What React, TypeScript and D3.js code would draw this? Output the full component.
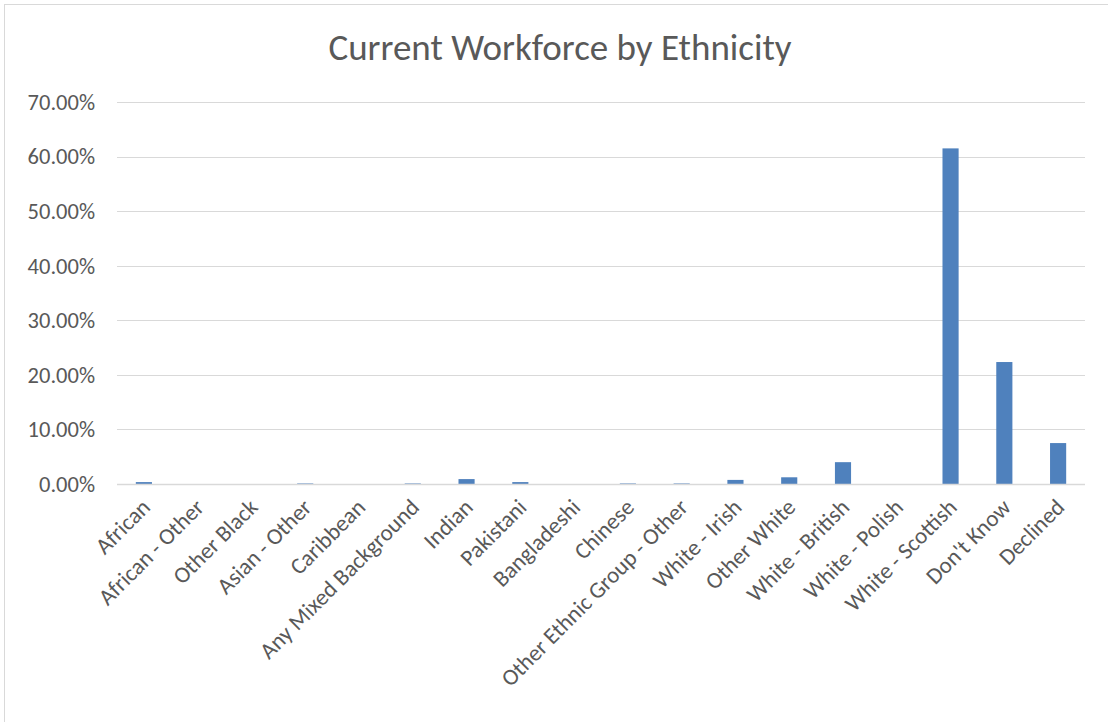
import React, { useEffect, useRef } from "react";
import * as d3 from "d3";

const categories = [
  "African", "African - Other", "Other Black", "Asian - Other", "Caribbean",
  "Any Mixed Background", "Indian", "Pakistani", "Bangladeshi", "Chinese",
  "Other Ethnic Group - Other", "White - Irish", "Other White", "White - British",
  "White - Polish", "White - Scottish", "Don't Know", "Declined",
];
const values = [
  0.0035, 0.0, 0.0, 0.001, 0.0,
  0.001, 0.009, 0.0035, 0.0, 0.001,
  0.001, 0.0075, 0.0123, 0.04,
  0.0, 0.615, 0.2235, 0.075,
];
const yTicks = [0, 0.1, 0.2, 0.3, 0.4, 0.5, 0.6, 0.7];
const title = "Current Workforce by Ethnicity";

export default function App() {
  const ref = useRef<SVGSVGElement>(null);
  useEffect(() => {
    const W = 1108, H = 722;
    const svg = d3.select(ref.current);
    svg.selectAll("*").remove();
    const left = 117, right = 1085, top = 102, bottom = 484;
    const font = "Carlito, Calibri, 'Open Sans', sans-serif";

    svg.append("rect").attr("width", W).attr("height", H).attr("fill", "#fff");
    svg.append("rect").attr("x", 4.5).attr("y", 4.5).attr("width", W + 10).attr("height", H + 10)
      .attr("fill", "none").attr("stroke", "#d9d9d9").attr("stroke-width", 1);

    const x = d3.scaleBand().domain(categories).range([left, right]).paddingInner(0.7).paddingOuter(0.35);
    const y = d3.scaleLinear().domain([0, 0.7]).range([bottom, top]);

    svg.append("text").attr("x", 560).attr("y", 60).attr("text-anchor", "middle")
      .attr("font-family", font).attr("font-size", 37).attr("fill", "#595959").text(title);

    const g = svg.append("g");
    g.selectAll("line.grid").data(yTicks.slice(1)).join("line")
      .attr("x1", left).attr("x2", right)
      .attr("y1", (d) => Math.round(y(d)) + 0.5).attr("y2", (d) => Math.round(y(d)) + 0.5)
      .attr("stroke", "#d9d9d9").attr("stroke-width", 1);

    g.selectAll("text.yt").data(yTicks).join("text")
      .attr("x", 95).attr("y", (d) => y(d)).attr("dy", "0.35em").attr("text-anchor", "end")
      .attr("font-family", font).attr("font-size", 22.5).attr("fill", "#595959")
      .text((d) => d3.format(".2%")(d));

    g.selectAll("rect.bar").data(values).join("rect")
      .attr("x", (_, i) => x(categories[i])!).attr("width", x.bandwidth())
      .attr("y", (d) => y(d)).attr("height", (d) => y(0) - y(d))
      .attr("fill", "#4f81bd");

    g.append("line").attr("x1", left).attr("x2", right).attr("y1", bottom + 0.5).attr("y2", bottom + 0.5)
      .attr("stroke", "#d9d9d9").attr("stroke-width", 1.5);

    g.selectAll("text.xl").data(categories).join("text")
      .attr("transform", (d) => `translate(${x(d)! + x.bandwidth() / 2 + 2},${bottom + 19}) rotate(-45)`)
      .attr("text-anchor", "end").attr("dy", "0.35em")
      .attr("font-family", font).attr("font-size", 23).attr("fill", "#595959")
      .text((d) => d);
  }, []);
  return (
    <svg ref={ref} width={1108} height={722} style={{ position: "absolute", left: 0, top: 0 }} />
  );
}
